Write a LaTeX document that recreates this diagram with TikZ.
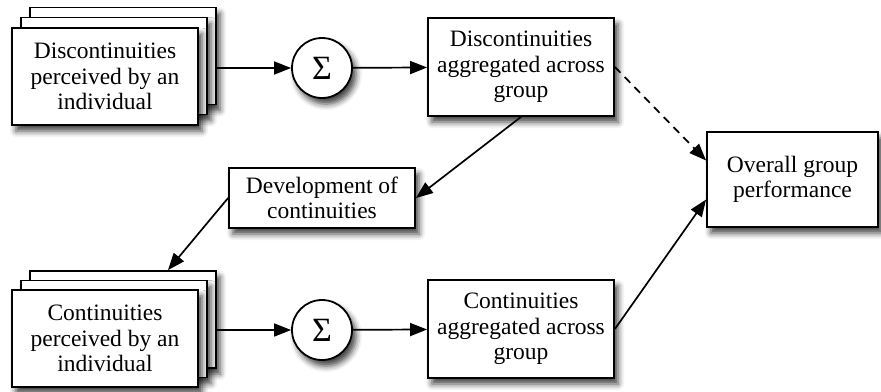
\documentclass[tikz,border=0pt]{standalone}
\usepackage{fontspec}
\setmainfont{Liberation Serif}
\usepackage{tikz}
\usetikzlibrary{arrows.meta}
\usetikzlibrary{positioning}
\usetikzlibrary{shadows.blur}
\tikzset{
  boxnode/.style = {draw=black, fill=white, line width=1.8pt, align=center,
    inner sep=2pt, font=\fontsize{23.5}{25.5}\selectfont,
    blur shadow={shadow xshift=4pt, shadow yshift=-6pt, shadow blur radius=6pt,
      shadow opacity=75}},% boite ordinaire
  card/.style = {boxnode, minimum width=186pt, minimum height=97pt},% pile de fiches
  sumnode/.style = {boxnode, circle, minimum size=60pt,
    font=\fontsize{34}{34}\selectfont},% somme
  flow/.style = {-{Triangle[length=17pt,width=13pt]}, line width=1.7pt}
}

\begin{document}
\begin{tikzpicture}[x=1pt,y=-1pt]
\useasboundingbox (0,0) rectangle (881,391);

% pile du haut
\node [card] (discBack) at (123,56) {};
\node [card] (discMid) at (114,66) {};
\node [card] (disc) at (105,76.5) {Discontinuities\\perceived by an\\individual};
\node [sumnode] (sumD) at (322,68) {Σ};
\node [card, minimum height=98pt] (discAgg) at (521,67) {Discontinuities\\aggregated across\\group};

% milieu
\node [boxnode, minimum width=186pt, minimum height=60pt] (dev) at (322,198)
  {Development of\\continuities};
\node [boxnode, minimum width=171pt, minimum height=95pt] (overall) at (792.5,179.5)
  {Overall group\\performance};

% pile du bas
\node [card] (contBack) at (123,319.5) {};
\node [card] (contMid) at (114,329) {};
\node [card] (cont) at (105,338.5) {Continuities\\perceived by an\\individual};
\node [sumnode] (sumC) at (322,330) {Σ};
\node [card, minimum height=98pt] (contAgg) at (521,329) {Continuities\\aggregated across\\group};

\draw[flow] (sumD -| discBack.east) -- (sumD);
\draw[flow] (sumD) -- (discAgg);
\draw[flow] (sumC -| contBack.east) -- (sumC);
\draw[flow] (sumC) -- (contAgg);
\draw[flow] (discAgg.south) -- (dev.east);
\draw[flow] (dev.west) -- ([xshift=45pt]contBack.north);
\draw[flow] (contAgg.east) -- ([yshift=-20pt]overall.west);
\draw[flow,dashed,dash pattern=on 8pt off 6pt] (discAgg.east) -- ([yshift=19pt]overall.west);
\end{tikzpicture}
\end{document}
